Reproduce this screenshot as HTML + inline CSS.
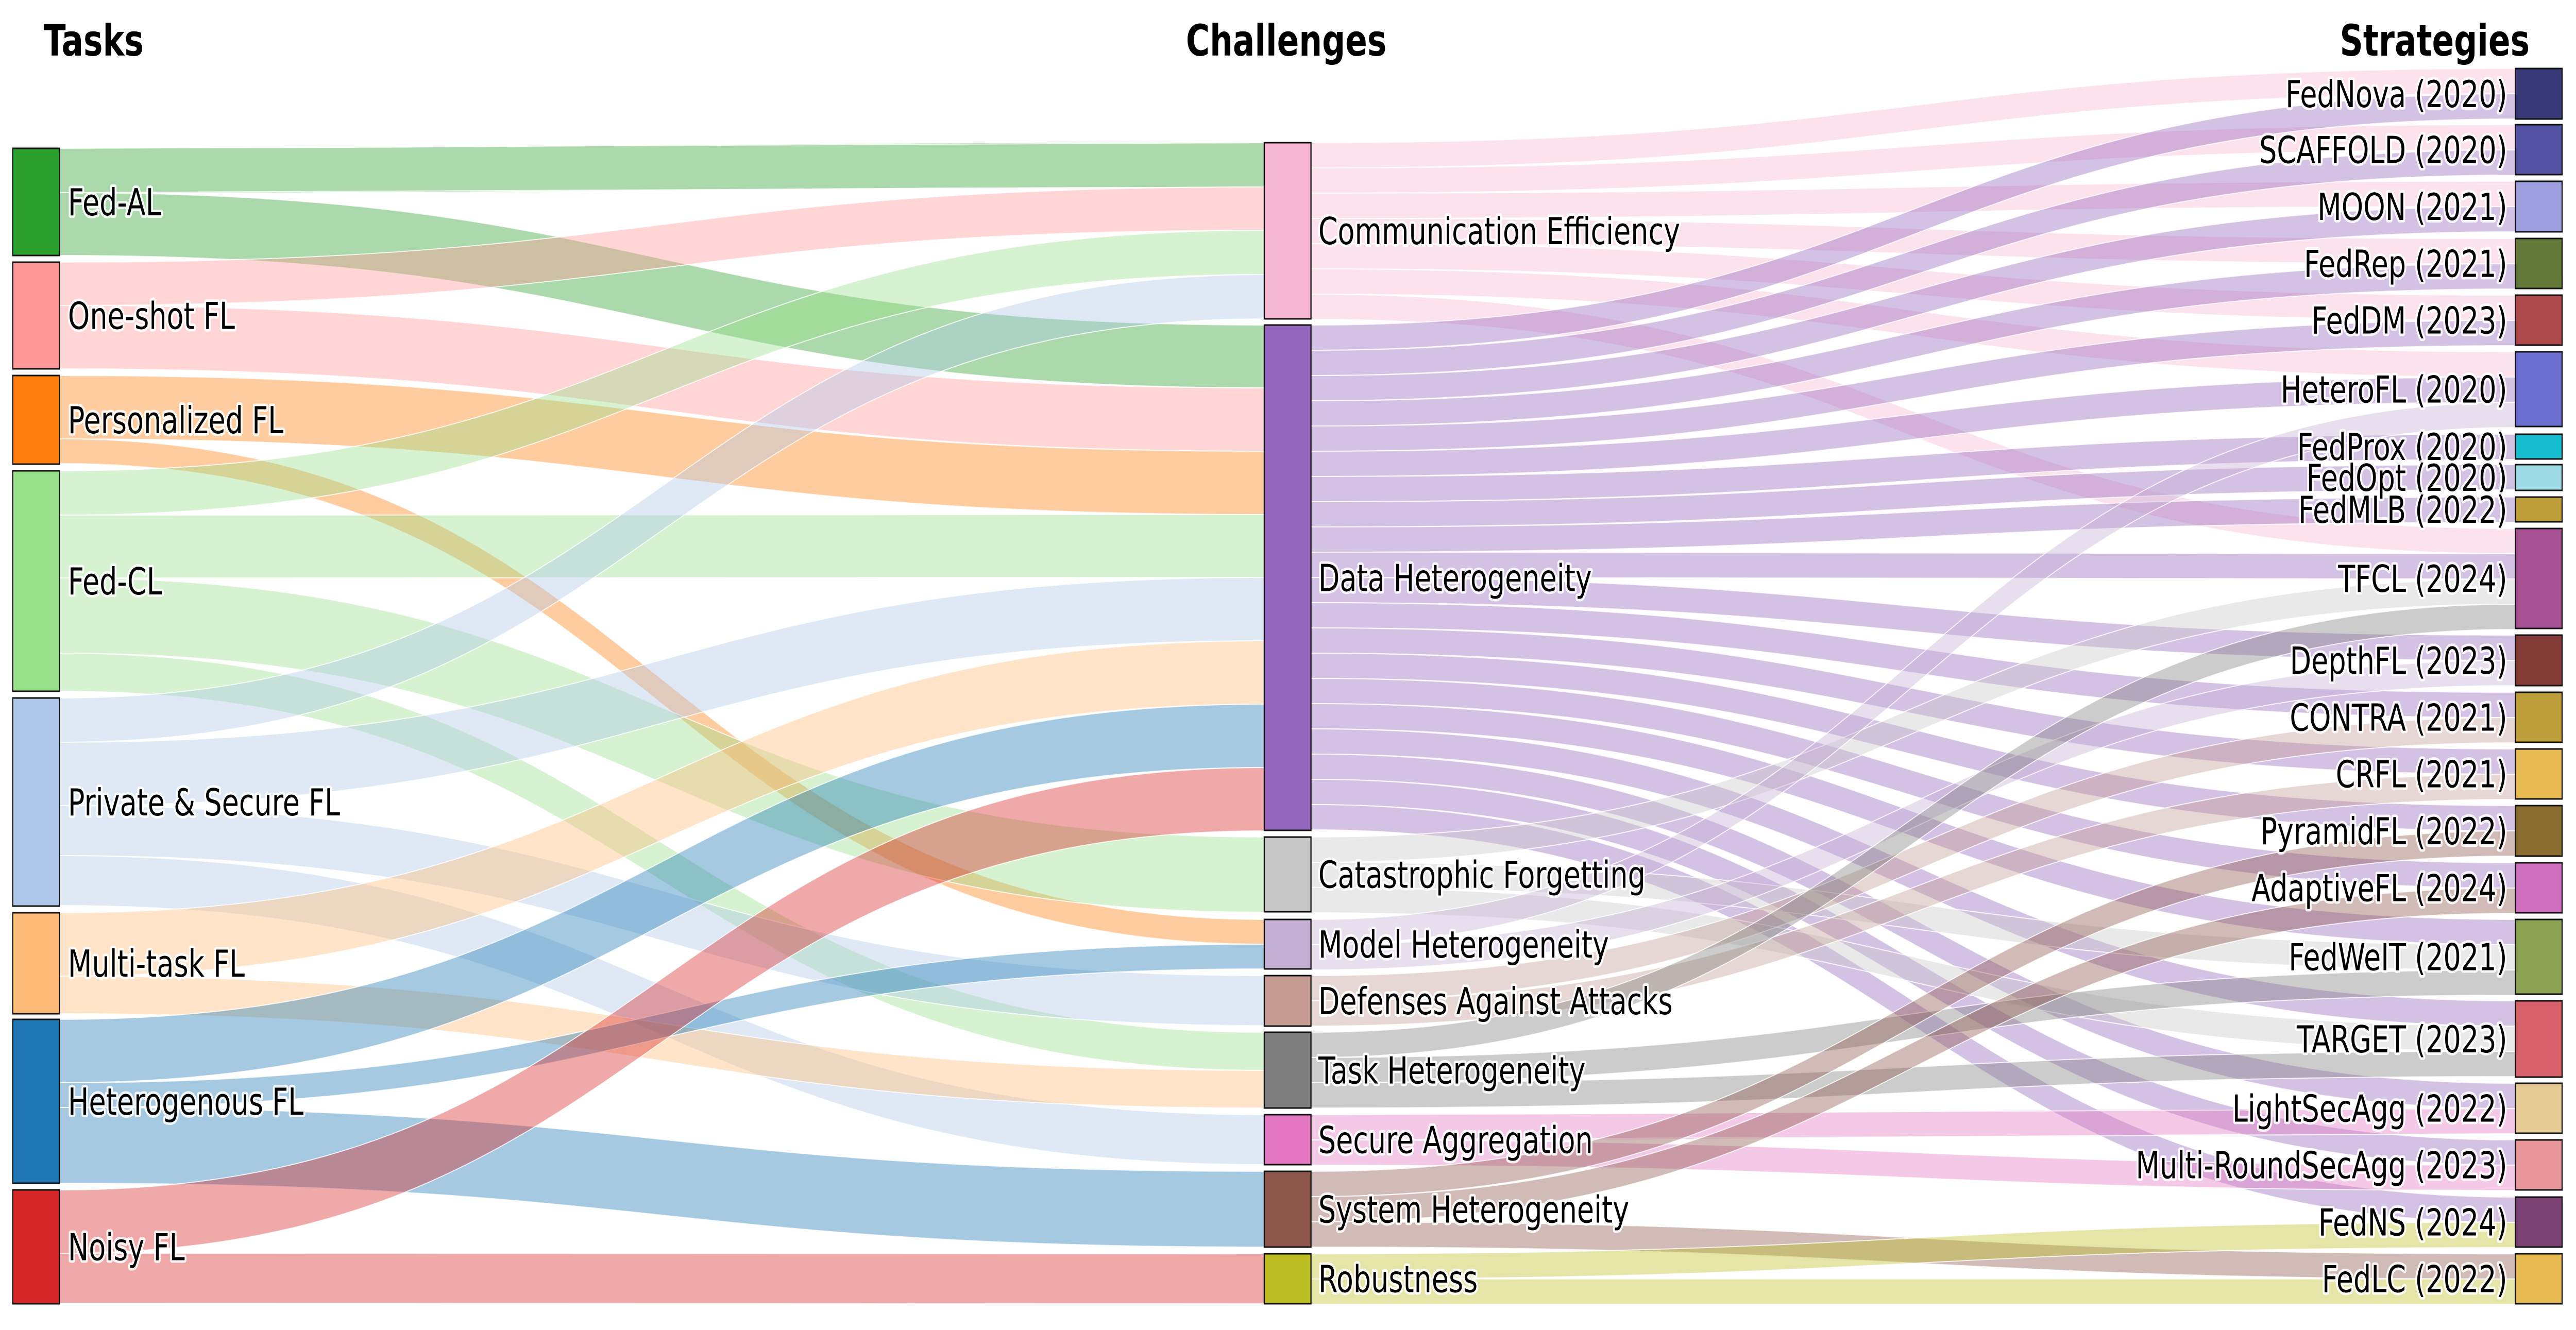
<!DOCTYPE html>
<html><head><meta charset="utf-8">
<style>
html,body{margin:0;padding:0;background:#fff;overflow:hidden;width:100%;height:100%;}
svg{display:block;width:100vw;height:100vh;}
text{font-family:"DejaVu Sans","Liberation Sans",sans-serif;}
.lbl{font-size:72px;fill:#000;stroke:#fff;stroke-width:10px;stroke-opacity:0.85;paint-order:stroke;stroke-linejoin:round;}
.ttl{font-size:84px;font-weight:bold;fill:#000;}
</style></head>
<body>
<svg id="s" xmlns="http://www.w3.org/2000/svg" viewBox="0 0 6671 2582" preserveAspectRatio="none">
<text class="ttl" x="113" y="108">Tasks</text>
<text class="ttl" x="3331" y="108" text-anchor="middle">Challenges</text>
<text class="ttl" x="6551" y="108" text-anchor="end">Strategies</text>
<g id="links"></g><g id="nodes"></g><g id="labels"></g>
</svg>
<script>
var NS="http://www.w3.org/2000/svg";
var L=[["Fed-AL",288,496,"#2ca02c"],["One-shot FL",509,716,"#ff9896"],["Personalized FL",729,901,"#ff7f0e"],["Fed-CL",914,1342,"#98df8a"],["Private & Secure FL",1355,1759,"#aec7e8"],["Multi-task FL",1772,1968,"#ffbb78"],["Heterogenous FL",1979,2297,"#1f77b4"],["Noisy FL",2310,2531,"#d62728"]];
var M=[["Communication Efficiency",277,619,"#f7b6d2"],["Data Heterogeneity",631,1612,"#9467bd"],["Catastrophic Forgetting",1625,1770,"#c7c7c7"],["Model Heterogeneity",1785,1881,"#c5b0d5"],["Defenses Against Attacks",1894,1992,"#c49c94"],["Task Heterogeneity",2004,2151,"#7f7f7f"],["Secure Aggregation",2164,2261,"#e377c2"],["System Heterogeneity",2274,2421,"#8c564b"],["Robustness",2434,2531,"#bcbd22"]];
var R=[["FedNova (2020)",133,231,"#393b79"],["SCAFFOLD (2020)",242,339,"#5254a3"],["MOON (2021)",352,450,"#9c9ede"],["FedRep (2021)",463,560,"#637939"],["FedDM (2023)",573,670,"#ad494a"],["HeteroFL (2020)",683,828,"#6b6ecf"],["FedProx (2020)",843,891,"#17becf"],["FedOpt (2020)",902,952,"#9edae5"],["FedMLB (2022)",965,1013,"#bd9e39"],["TFCL (2024)",1026,1220,"#a55194"],["DepthFL (2023)",1233,1331,"#843c39"],["CONTRA (2021)",1344,1441,"#bd9e39"],["CRFL (2021)",1454,1551,"#e7ba52"],["PyramidFL (2022)",1564,1662,"#8c6d31"],["AdaptiveFL (2024)",1675,1772,"#ce6dbd"],["FedWeIT (2021)",1785,1930,"#8ca252"],["TARGET (2023)",1943,2091,"#d6616b"],["LightSecAgg (2022)",2103,2200,"#e7cb94"],["Multi-RoundSecAgg (2023)",2213,2310,"#e7969c"],["FedNS (2024)",2324,2421,"#7b4173"],["FedLC (2022)",2434,2531,"#e7ba52"]];
var LL=[[0,0,86],[0,1,122],[1,0,84],[1,1,123],[2,1,123],[2,3,48],[3,0,86],[3,1,122],[3,2,146],[3,5,74],[4,0,86],[4,1,123],[4,4,97],[4,6,97],[5,1,123],[5,5,73],[6,1,123],[6,3,48],[6,7,147],[7,1,123],[7,8,97]];
var u=49;
var ML=[];
[0,1,2,3,4,5,9].forEach(function(t){ML.push([0,t,u]);});
for(var t=0;t<20;t++){ML.push([1,t,u]);}
[9,15,16].forEach(function(t){ML.push([2,t,u]);});
[5,10].forEach(function(t){ML.push([3,t,u]);});
[11,12].forEach(function(t){ML.push([4,t,u]);});
[9,15,16].forEach(function(t){ML.push([5,t,u]);});
[17,18].forEach(function(t){ML.push([6,t,u]);});
[13,14,20].forEach(function(t){ML.push([7,t,u]);});
[19,20].forEach(function(t){ML.push([8,t,u]);});
function draw(links,S,T,x0,x1){
  var so=S.map(function(n){return n[1];}), to=T.map(function(n){return n[1];});
  var bySrc=links.slice().sort(function(a,b){return a[0]-b[0]||a[1]-b[1];});
  bySrc.forEach(function(l){l.ys=so[l[0]];so[l[0]]+=l[2];});
  var byT=links.slice().sort(function(a,b){return a[1]-b[1]||a[0]-b[0];});
  byT.forEach(function(l){l.yt=to[l[1]];to[l[1]]+=l[2];});
  var g=document.getElementById("links");
  var xm=(x0+x1)/2;
  links.forEach(function(l){
    var w=l[2],a=l.ys,b=l.yt;
    var p=document.createElementNS(NS,"path");
    p.setAttribute("d","M"+x0+","+a+"C"+xm+","+a+" "+xm+","+b+" "+x1+","+b+"L"+x1+","+(b+w)+"C"+xm+","+(b+w)+" "+xm+","+(a+w)+" "+x0+","+(a+w)+"Z");
    p.setAttribute("fill",S[l[0]][3]);p.setAttribute("fill-opacity","0.4");
    p.setAttribute("stroke","#fff");p.setAttribute("stroke-width","2");p.setAttribute("stroke-opacity","0.8");
    g.appendChild(p);
  });
}
draw(LL,L,M,154,3274);
draw(ML,M,R,3395,6514);
var gn=document.getElementById("nodes"),gl=document.getElementById("labels");
function nodes(arr,x,lx,anchor){
  arr.forEach(function(n){
    var r=document.createElementNS(NS,"rect");
    r.setAttribute("x",x);r.setAttribute("y",n[1]);r.setAttribute("width",121);r.setAttribute("height",n[2]-n[1]);
    r.setAttribute("fill",n[3]);r.setAttribute("stroke","#111");r.setAttribute("stroke-width","3");
    gn.appendChild(r);
    var t=document.createElementNS(NS,"text");
    t.setAttribute("class","lbl");t.setAttribute("x",lx);t.setAttribute("y",(n[1]+n[2])/2+26);
    t.setAttribute("text-anchor",anchor);t.textContent=n[0];gl.appendChild(t);
  });
}
nodes(L,33,176,"start");
nodes(M,3274,3414,"start");
nodes(R,6514,6493,"end");
</script>
</body></html>
